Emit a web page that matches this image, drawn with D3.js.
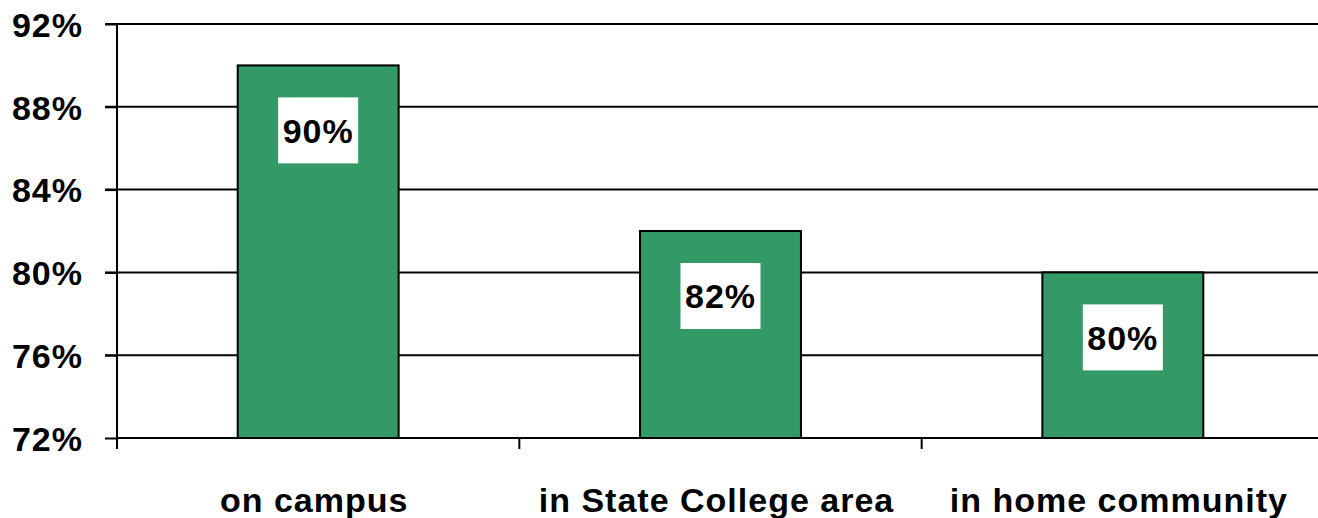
<!DOCTYPE html>
<html><head><meta charset="utf-8">
<script src="https://cdn.jsdelivr.net/npm/d3@7"></script>
<style>
html,body{margin:0;padding:0;background:#fff;}
svg text{font-family:"Liberation Sans",Arial,sans-serif;font-weight:bold;fill:#000;}
</style></head>
<body>
<svg id="c" width="1318" height="518"></svg>
<script>
const categories = ["on campus", "in State College area", "in home community"];
const values = [90, 82, 80];
const yTicks = [72, 76, 80, 84, 88, 92];

(function () {
const svg = d3.select("#c");
const pLeft = 117, pRight = 1324, pTop = 24, pBottom = 438;

const x = d3.scaleBand().domain(categories).range([pLeft, pRight]).paddingInner(0).paddingOuter(0);
const y = d3.scaleLinear().domain([72, 92]).range([pBottom, pTop]);
const barW = x.bandwidth() * 0.4;

// gridlines
svg.append("g").selectAll("line").data(yTicks.filter(d => d > 72)).join("line")
  .attr("x1", pLeft - 12).attr("x2", 1318)
  .attr("y1", d => y(d)).attr("y2", d => y(d))
  .attr("stroke", "#000").attr("stroke-width", 2);

// bars
svg.append("g").selectAll("rect").data(values).join("rect")
  .attr("x", (d, i) => x(categories[i]) + (x.bandwidth() - barW) / 2)
  .attr("y", d => y(d))
  .attr("width", barW)
  .attr("height", d => pBottom - y(d))
  .attr("fill", "#339966").attr("stroke", "#000").attr("stroke-width", 2);

// y axis
const yAxis = d3.axisLeft(y).tickValues(yTicks).tickSize(12).tickFormat(d => d + "%");
const gy = svg.append("g").attr("transform", `translate(${pLeft},0)`).call(yAxis);
gy.select(".domain").remove();
gy.selectAll(".tick line").attr("stroke", "#000").attr("stroke-width", 2);
gy.selectAll(".tick text").attr("x", -34).attr("dy", "0.36em")
  .style("font-size", "34px").style("letter-spacing", "1px").attr("fill", "#000");
svg.append("line").attr("x1", pLeft).attr("x2", pLeft).attr("y1", pTop).attr("y2", pBottom + 11)
  .attr("stroke", "#000").attr("stroke-width", 2);

// x axis
svg.append("line").attr("x1", pLeft).attr("x2", 1318).attr("y1", pBottom).attr("y2", pBottom)
  .attr("stroke", "#000").attr("stroke-width", 2);
const xb = categories.map(c => x(c)).slice(1);
svg.append("g").selectAll("line").data(xb).join("line")
  .attr("x1", d => d).attr("x2", d => d).attr("y1", pBottom).attr("y2", pBottom + 11)
  .attr("stroke", "#000").attr("stroke-width", 2);
svg.append("g").selectAll("text").data(categories).join("text")
  .attr("x", d => x(d) + x.bandwidth() / 2 - 4)
  .attr("y", 512)
  .attr("text-anchor", "middle")
  .style("font-size", "34px").style("letter-spacing", "1px")
  .text(d => d);

// value labels
const lab = svg.append("g").selectAll("g").data(values).join("g")
  .attr("transform", (d, i) => `translate(${x(categories[i]) + x.bandwidth() / 2}, ${y(d) + 65})`);
lab.append("rect").attr("x", -40).attr("y", -33).attr("width", 80).attr("height", 66).attr("fill", "#fff");
lab.append("text").attr("text-anchor", "middle").attr("dy", "0.36em")
  .style("font-size", "34px").style("letter-spacing", "1px")
  .text(d => d + "%");
})();
</script>
</body></html>
